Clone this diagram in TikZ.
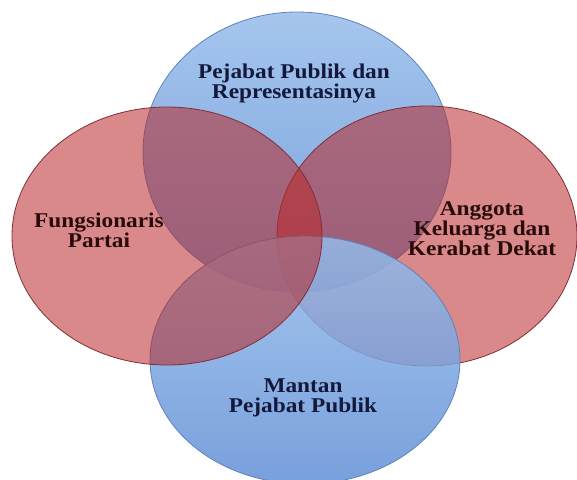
\documentclass[tikz,border=0pt]{standalone}
\usepackage{fontspec}
\setmainfont{Liberation Serif}[FakeStretch=1.11]
\usetikzlibrary{shapes.geometric}

\definecolor{setred}{RGB}{185,40,40}
\definecolor{redline}{RGB}{130,45,55}
\definecolor{bluetop}{RGB}{150,188,234}
\definecolor{bluebottom}{RGB}{96,143,214}
\definecolor{blueline}{RGB}{95,130,185}
\definecolor{navytext}{RGB}{20,25,60}
\definecolor{browntext}{RGB}{40,10,10}

\begin{document}
\begin{tikzpicture}[x=1pt, y=-1pt,
    blueset/.style={ellipse, draw=blueline, line width=0.8pt, inner sep=0pt,
        top color=bluetop, bottom color=bluebottom, fill opacity=0.85},
    redset/.style={ellipse, draw=redline, line width=0.8pt, inner sep=0pt,
        fill=setred, fill opacity=0.55},
    bluetext/.style={font=\bfseries\fontsize{21}{20}\selectfont, text=navytext, align=center, inner sep=0pt},
    redtext/.style={font=\bfseries\fontsize{21}{20}\selectfont, text=browntext, align=center, inner sep=0pt}
]
\useasboundingbox (0,0) rectangle (577,479);

\node[blueset, minimum width=308pt, minimum height=280pt] (pejabat) at (297,152) {};
\node[redset, minimum width=300pt, minimum height=260pt] (keluarga) at (427,236) {};
\node[blueset, minimum width=310pt, minimum height=248pt] (mantan) at (305,360) {};
\node[redset, minimum width=310pt, minimum height=258pt] (partai) at (167,236) {};

\node[bluetext] (pejabatlabel) at (294,83) {Pejabat Publik dan\\Representasinya};
\node[redtext] (partailabel) at (99,230) {Fungsionaris\\Partai};
\node[redtext] (keluargalabel) at (482,229) {Anggota\\Keluarga dan\\Kerabat Dekat};
\node[bluetext] (mantanlabel) at (303,398) {Mantan\\Pejabat Publik};

\end{tikzpicture}
\end{document}
